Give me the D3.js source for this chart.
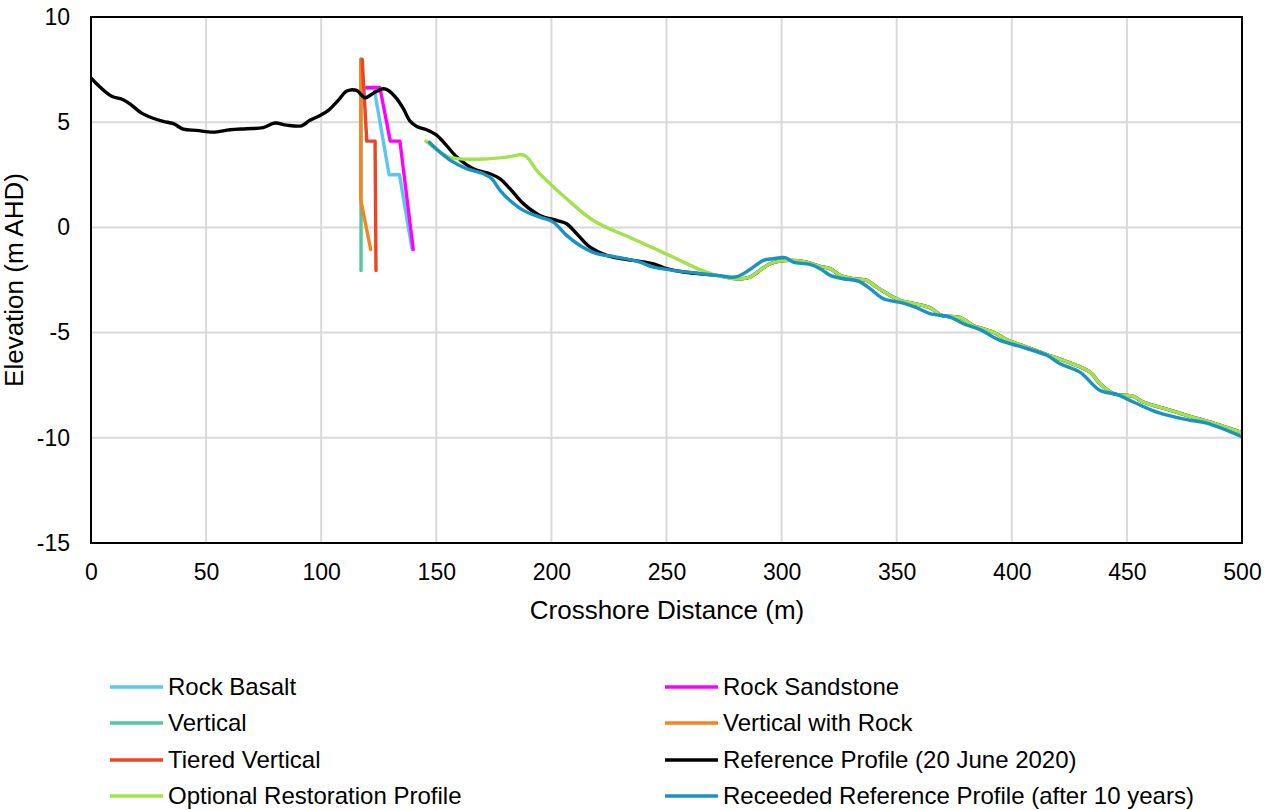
<!DOCTYPE html>
<html>
<head>
<meta charset="utf-8">
<script src="https://cdn.jsdelivr.net/npm/d3@7"></script>
<style>
  body { margin: 0; background: #fff; }
  svg { font-family: "Liberation Sans", Arial, sans-serif; }
</style>
</head>
<body>
<svg id="chart" width="1264" height="810"></svg>
<script>
// series data: [crosshore distance (m), elevation (m AHD)]
const rockBasalt = [[119.8,6.6],[123,6.6],[129.5,2.5],[134,2.5],[139.5,-1.05]];
const rockSandstone = [[119.8,6.65],[125.5,6.65],[130,4.1],[134.2,4.1],[140,-1.05]];
const vertical = [[117.3,8.0],[117.3,-2.05]];
const verticalWithRock = [[117.2,8.0],[117.2,1.3],[121.5,-1.05]];
const tieredVertical = [[117.8,8.0],[119.8,4.1],[123.4,4.1],[123.8,-2.05]];

const referenceProfile = [[0,7.1],[3.9,6.67],[9,6.23],[14,6.07],[17.7,5.8],[22,5.43],[26.4,5.21],[31.4,5.04],
  [35.8,4.93],[40.1,4.67],[45.9,4.61],[53.1,4.53],[60.4,4.64],[67.6,4.69],[74.8,4.74],[79.9,4.96],[85,4.86],
  [91.5,4.83],[95.1,5.09],[99.5,5.32],[103.1,5.56],[107.4,6.04],[111.1,6.48],[115.4,6.51],[119,6.16],
  [122.6,6.38],[127,6.59],[129.2,6.51],[132.8,6.12],[135.7,5.64],[138.6,5.05],[141.5,4.8],[145.8,4.64],
  [150,4.4],[154,3.95],[158.9,3.35],[166.1,2.79],[173.3,2.55],[177.7,2.31],[182,1.84],[187.8,1.13],[195,0.57],
  [202.3,0.33],[206.6,0.17],[211,-0.3],[216.8,-0.94],[224,-1.33],[235.6,-1.57],[244.3,-1.73],[250.1,-1.96],
  [257.3,-2.12],[264.6,-2.2],[271.8,-2.28],[280.5,-2.44],[286.3,-2.36],[290.6,-2.04],[295,-1.73],[299.3,-1.6],
  [305.1,-1.57],[310.9,-1.65],[316.7,-1.85],[321.1,-1.96],[325.4,-2.28],[331.2,-2.44],[337,-2.52],[341.3,-2.84],
  [347.1,-3.23],[351.4,-3.47],[355.8,-3.58],[364.5,-3.82],[369.5,-4.18],[377.5,-4.29],[383.3,-4.66],[392,-4.98],
  [397.8,-5.34],[406.5,-5.69],[415.2,-6.04],[422.4,-6.32],[434,-6.88],[438.3,-7.43],[444.1,-7.9],[452.8,-8.03],
  [457.1,-8.3],[465.8,-8.59],[477.4,-8.98],[487.5,-9.3],[500,-9.75]];

const optionalRestoration = [[145.5,4.1],[151.6,3.58],[155,3.35],[158.9,3.27],[170.4,3.25],[180.6,3.34],
  [187.8,3.45],[190,3.27],[193.6,2.71],[197.9,2.23],[206.6,1.36],[218.2,0.33],[235.6,-0.55],[242.8,-0.91],
  [253,-1.42],[264,-1.98],[271.8,-2.28],[280.5,-2.44],[286.3,-2.36],[290.6,-2.04],[295,-1.73],[299.3,-1.6],
  [305.1,-1.57],[310.9,-1.65],[316.7,-1.85],[321.1,-1.96],[325.4,-2.28],[331.2,-2.44],[337,-2.52],[341.3,-2.84],
  [347.1,-3.23],[351.4,-3.47],[355.8,-3.58],[364.5,-3.82],[369.5,-4.18],[377.5,-4.29],[383.3,-4.66],[392,-4.98],
  [397.8,-5.34],[406.5,-5.69],[415.2,-6.04],[422.4,-6.32],[434,-6.88],[438.3,-7.43],[444.1,-7.9],[452.8,-8.03],
  [457.1,-8.3],[465.8,-8.59],[477.4,-8.98],[487.5,-9.3],[500,-9.75]];

const receededProfile = [[147,4.05],[151.6,3.58],[157.4,3.1],[163.2,2.79],[170.4,2.55],[174.1,2.31],[177.7,1.76],
  [182,1.28],[187.8,0.81],[195,0.49],[200.8,0.25],[206.6,-0.38],[212.4,-0.86],[219.7,-1.25],[228.4,-1.41],
  [238.4,-1.65],[244.3,-1.89],[253,-2.04],[260.2,-2.14],[271.8,-2.28],[279.8,-2.36],[283.4,-2.2],[287.7,-1.89],
  [292.1,-1.57],[296.4,-1.49],[301.5,-1.44],[305.1,-1.65],[312.3,-1.76],[316.7,-1.96],[321.1,-2.28],[326.8,-2.44],
  [333.3,-2.55],[338.4,-2.91],[344.2,-3.39],[352.9,-3.6],[358.7,-3.82],[364.5,-4.1],[373.2,-4.26],[379,-4.58],
  [386.2,-4.86],[394.9,-5.37],[403.6,-5.66],[415.2,-6.08],[421,-6.48],[429.6,-6.88],[438.3,-7.75],[445.6,-7.94],
  [452.8,-8.3],[463,-8.78],[476,-9.14],[484.7,-9.3],[500,-9.95]];

const seriesNames = ["Rock Basalt", "Rock Sandstone", "Vertical", "Vertical with Rock", "Tiered Vertical",
  "Reference Profile (20 June 2020)", "Optional Restoration Profile", "Receeded Reference Profile (after 10 years)"];
const seriesData = [rockBasalt, rockSandstone, vertical, verticalWithRock, tieredVertical,
  referenceProfile, optionalRestoration, receededProfile];
const seriesColors = ["#5BC6EF", "#FF00FF", "#52C7A0", "#F8821E", "#EE4426", "#000000", "#A2E24C", "#1893C3"];
const smoothed = [false, false, false, false, false, true, true, true];

const xTicks = [0, 50, 100, 150, 200, 250, 300, 350, 400, 450, 500];
const yTicks = [10, 5, 0, -5, -10, -15];

const svg = d3.select("#chart");
const x = d3.scaleLinear().domain([0, 500]).range([91, 1242]);
const y = d3.scaleLinear().domain([-15, 10]).range([543, 17]);

// gridlines
svg.append("g").selectAll("line").data(xTicks).join("line")
  .attr("x1", d => x(d)).attr("x2", d => x(d)).attr("y1", y(10)).attr("y2", y(-15))
  .attr("stroke", "#d9d9d9").attr("stroke-width", 2);
svg.append("g").selectAll("line").data(yTicks).join("line")
  .attr("x1", x(0)).attr("x2", x(500)).attr("y1", d => y(d)).attr("y2", d => y(d))
  .attr("stroke", "#d9d9d9").attr("stroke-width", 2);

// axes labels (plain hyphen for negatives, like the original)
const fmt = d => String(d);
const xAxis = d3.axisBottom(x).tickValues(xTicks).tickFormat(fmt).tickSize(0).tickPadding(21);
svg.append("g").attr("transform", `translate(0,${y(-15)})`).call(xAxis)
  .call(g => g.select(".domain").remove())
  .selectAll("text").attr("font-size", 23).attr("fill", "#000").attr("font-family", "Liberation Sans, Arial, sans-serif");
const yAxis = d3.axisLeft(y).tickValues(yTicks).tickFormat(fmt).tickSize(0).tickPadding(21);
svg.append("g").attr("transform", `translate(${x(0)},0)`).call(yAxis)
  .call(g => g.select(".domain").remove())
  .selectAll("text").attr("font-size", 23).attr("fill", "#000").attr("font-family", "Liberation Sans, Arial, sans-serif");

svg.append("text").attr("x", 667).attr("y", 619).attr("text-anchor", "middle")
  .attr("font-size", 26).text("Crosshore Distance (m)");
svg.append("text").attr("transform", `translate(23,${(y(10) + y(-15)) / 2}) rotate(-90)`)
  .attr("text-anchor", "middle").attr("font-size", 26).text("Elevation (m AHD)");

// series lines
svg.append("clipPath").attr("id", "plotClip").append("rect")
  .attr("x", x(0)).attr("y", y(10)).attr("width", x(500) - x(0)).attr("height", y(-15) - y(10));
const plot = svg.append("g").attr("clip-path", "url(#plotClip)");
seriesData.forEach((data, i) => {
  const line = d3.line()
    .x(d => x(d[0])).y(d => y(d[1]))
    .curve(smoothed[i] ? d3.curveCatmullRom.alpha(0.5) : d3.curveLinear);
  plot.append("path").datum(data)
    .attr("fill", "none").attr("stroke", seriesColors[i]).attr("stroke-width", 3.4)
    .attr("stroke-linejoin", "round").attr("stroke-linecap", "round")
    .attr("d", line);
});

// frame
svg.append("rect").attr("x", x(0)).attr("y", y(10)).attr("width", x(500) - x(0)).attr("height", y(-15) - y(10))
  .attr("fill", "none").attr("stroke", "#000").attr("stroke-width", 2);

// legend
const legendCols = [110, 665];
const legendRows = [687, 723, 760, 796];
const legend = svg.append("g").selectAll("g").data(seriesNames).join("g")
  .attr("transform", (d, i) => `translate(${legendCols[i % 2]},${legendRows[Math.floor(i / 2)]})`);
legend.append("line").attr("x1", 0).attr("x2", 53).attr("y1", 0).attr("y2", 0)
  .attr("stroke", (d, i) => seriesColors[i]).attr("stroke-width", 3.4);
legend.append("text").attr("x", 58).attr("y", 0).attr("dy", "0.35em")
  .attr("font-size", 24).attr("fill", "#000").text(d => d);
</script>
</body>
</html>
